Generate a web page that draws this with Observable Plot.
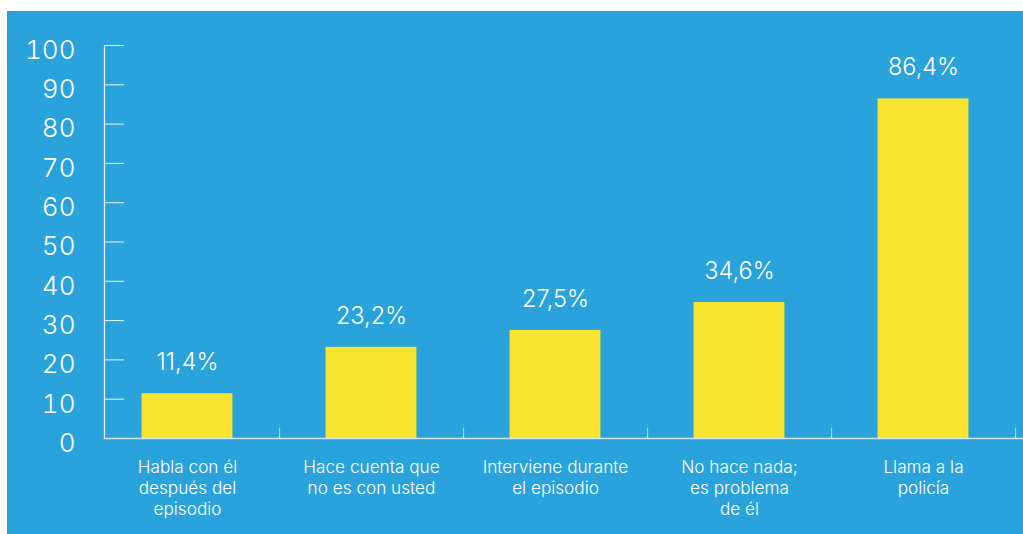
<!DOCTYPE html>
<html>
<head>
<meta charset="utf-8">
<script src="https://cdn.jsdelivr.net/npm/d3@7"></script>
<script src="https://cdn.jsdelivr.net/npm/@observablehq/plot@0.6"></script>
<style>
  html, body { margin: 0; padding: 0; background: #ffffff; }
  #chart { position: absolute; left: 7px; top: 11px; width: 1016px; height: 523px; background: #2aa2dc; }
  svg { font-family: Inter, "Open Sans", sans-serif; font-weight: 300; }
</style>
</head>
<body>
<div id="chart"></div>
<script>
const categories = [
  "Habla con él\ndespués del\nepisodio",
  "Hace cuenta que\nno es con usted",
  "Interviene durante\nel episodio",
  "No hace nada;\nes problema\nde él",
  "Llama a la\npolicía"
];
const values = [11.4, 23.2, 27.5, 34.6, 86.4];
const valueLabels = ["11,4%", "23,2%", "27,5%", "34,6%", "86,4%"];
const yTicks = [0, 10, 20, 30, 40, 50, 60, 70, 80, 90, 100];

const data = categories.map((c, i) => ({category: c, value: values[i], label: valueLabels[i]}));

const W = 1016, H = 523;
const bandLeft = 87.4, bandRight = 1008;
const step = (bandRight - bandLeft) / categories.length;
const barWidth = 91;
const inset = (step - barWidth) / 2;

const plot = Plot.plot({
  width: W,
  height: H,
  marginLeft: 97,
  marginRight: 0,
  marginTop: 34,
  marginBottom: 96,
  style: {background: "transparent", color: "white", overflow: "visible"},
  x: {domain: categories, range: [bandLeft, bandRight], padding: 0},
  y: {domain: [0, 100], ticks: yTicks},
  marks: [
    Plot.barY(data, {x: "category", y: "value", fill: "#f8e42f", insetLeft: inset, insetRight: inset}),
    Plot.ruleX(categories, {x: d => d, dx: step / 2, y1: 0, y2: 2.6, stroke: "white", strokeOpacity: 0.6, strokeWidth: 1.2}),
    Plot.frame({anchor: "bottom", stroke: "white", strokeOpacity: 0.75, strokeWidth: 1.5}),
    Plot.frame({anchor: "left", stroke: "white", strokeOpacity: 0.9, strokeWidth: 1.2}),
    Plot.axisY({ticks: yTicks.filter(t => t > 0), tickSize: -20, tickFormat: () => "", stroke: "white", strokeOpacity: 0.9, label: null}),
    Plot.axisY({ticks: yTicks, tickSize: 0, tickPadding: 29, fontSize: 26, dy: 5, fill: "white", label: null}),
    Plot.axisX({tickSize: 0, tickPadding: 20, fontSize: 17.2, lineHeight: 1.22, fill: "white", label: null}),
    Plot.text(data, {x: "category", y: "value", text: "label", dy: -31, fontSize: 23.5, fill: "white", fontWeight: 300})
  ]
});
document.getElementById("chart").appendChild(plot);
</script>
</body>
</html>
